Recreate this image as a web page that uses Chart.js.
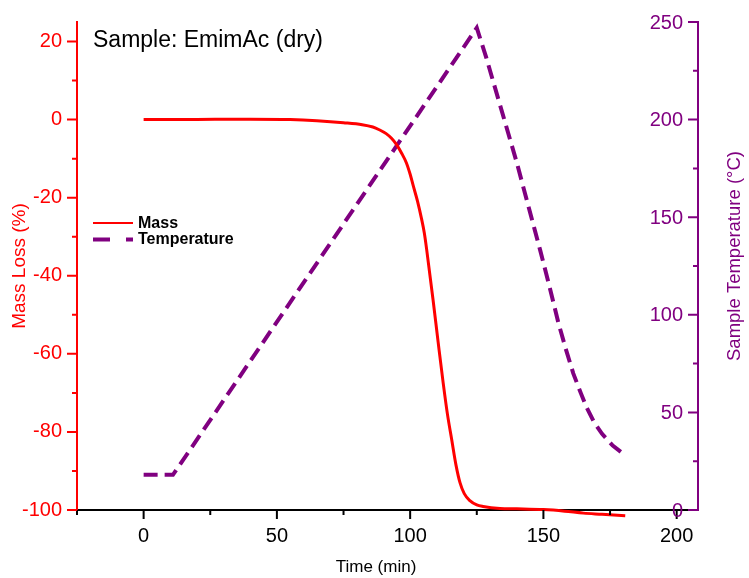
<!DOCTYPE html>
<html>
<head>
<meta charset="utf-8">
<script src="https://cdn.jsdelivr.net/npm/chart.js@4.4.1/dist/chart.umd.min.js"></script>
<style>
  html, body { margin: 0; padding: 0; background: #fff; }
  canvas { display: block; }
</style>
</head>
<body>
<canvas id="tgaChart" width="749" height="578"></canvas>
<script>
// mass loss curve (time in min, mass loss in %)
const massTime = [0, 20, 40, 55, 65, 75, 82, 86, 88.4, 91, 93, 94.9, 96.8, 98.6, 100, 101.1, 102.8, 104.3, 105.3, 106.2, 108.6, 110.5, 112.4, 114, 115.6, 117.2, 118.7, 120.3, 122.4, 125, 127.4, 133.7, 140, 150, 158, 165, 172, 180.7];
const massLoss = [0, 0.05, 0.1, 0, -0.3, -0.8, -1.3, -1.9, -2.6, -3.6, -4.8, -6.4, -8.6, -11.1, -14, -16.8, -21, -25.5, -29, -33.3, -46.2, -57, -67.5, -75.5, -82, -88.5, -93, -95.8, -97.6, -98.7, -99.1, -99.6, -99.7, -99.9, -100.3, -100.8, -101.1, -101.5];

// sample temperature (time in min, temperature in °C)
const tempTime = [0, 11, 125, 128.5, 140, 148.8, 152, 155.6, 158.5, 161.2, 164, 166.3, 169, 172, 176, 180.7];
const tempValues = [18, 18, 247, 232, 178, 133, 116, 96, 82, 70, 60, 52.3, 45, 39, 33, 28];

const xTicks = [0, 50, 100, 150, 200];
const massTicks = [-100, -80, -60, -40, -20, 0, 20];
const tempTicks = [0, 50, 100, 150, 200, 250];

const RED = '#ff0000';
const PURPLE = '#800080';
const FONT = '"Liberation Sans", Arial, sans-serif';

const toPoints = (xs, ys) => xs.map((x, i) => ({ x: x, y: ys[i] }));

// fixed plot box: label padding must not push the chart area around
const fixBox = size => s => {
    if (s.isHorizontal()) s.height = size; else s.width = size;
    s.paddingTop = 0; s.paddingBottom = 0; s.paddingLeft = 0; s.paddingRight = 0;
};

// tick marks, right tick labels, axis titles, legend and sample label
const decorations = {
    id: 'decorations',
    afterDraw(chart) {
        const ctx = chart.ctx;
        const { x, yMass, yTemp } = chart.scales;
        const area = chart.chartArea;
        ctx.save();
        ctx.lineWidth = 2;

        const tick = (color, fn) => { ctx.strokeStyle = color; ctx.beginPath(); fn(); ctx.stroke(); };

        tick('#000', () => {
            for (let v = -25; v <= 200; v += 25) {
                const px = x.getPixelForValue(v);
                const len = v % 50 === 0 ? 9 : 5;
                ctx.moveTo(px, area.bottom); ctx.lineTo(px, area.bottom + len);
            }
        });
        tick(RED, () => {
            for (let v = -100; v <= 20; v += 10) {
                const py = yMass.getPixelForValue(v);
                const len = v % 20 === 0 ? 10 : 5;
                ctx.moveTo(area.left, py); ctx.lineTo(area.left - len, py);
            }
        });
        tick(PURPLE, () => {
            for (let v = 0; v <= 250; v += 25) {
                const py = yTemp.getPixelForValue(v);
                const len = v % 50 === 0 ? 10 : 5;
                ctx.moveTo(area.right, py); ctx.lineTo(area.right - len, py);
            }
        });

        // right axis labels sit inside the plot, left of the ticks
        ctx.fillStyle = PURPLE;
        ctx.font = '20px ' + FONT;
        ctx.textAlign = 'right';
        ctx.textBaseline = 'middle';
        tempTicks.forEach(v => ctx.fillText(String(v), area.right - 15, yTemp.getPixelForValue(v) + 1));

        // axis titles
        ctx.textAlign = 'center';
        ctx.fillStyle = '#000';
        ctx.font = '17px ' + FONT;
        ctx.fillText('Time (min)', 376, 567);

        ctx.save();
        ctx.translate(20, 266);
        ctx.rotate(-Math.PI / 2);
        ctx.fillStyle = RED;
        ctx.font = '19px ' + FONT;
        ctx.fillText('Mass Loss (%)', 0, 0);
        ctx.restore();

        ctx.save();
        ctx.translate(735, 256);
        ctx.rotate(-Math.PI / 2);
        ctx.fillStyle = PURPLE;
        ctx.font = '18.5px ' + FONT;
        ctx.fillText('Sample Temperature (°C)', 0, 0);
        ctx.restore();

        // sample label
        ctx.textAlign = 'left';
        ctx.textBaseline = 'alphabetic';
        ctx.fillStyle = '#000';
        ctx.font = '23px ' + FONT;
        ctx.fillText('Sample: EmimAc (dry)', 93, 47);

        // legend
        ctx.strokeStyle = RED;
        ctx.lineWidth = 2;
        ctx.beginPath(); ctx.moveTo(93, 223); ctx.lineTo(133, 223); ctx.stroke();
        ctx.strokeStyle = PURPLE;
        ctx.lineWidth = 4;
        ctx.setLineDash([17, 16]);
        ctx.beginPath(); ctx.moveTo(93, 239.5); ctx.lineTo(133, 239.5); ctx.stroke();
        ctx.setLineDash([]);
        ctx.fillStyle = '#000';
        ctx.font = 'bold 16px ' + FONT;
        ctx.fillText('Mass', 138, 228);
        ctx.fillText('Temperature', 138, 244);
        ctx.restore();
    }
};

const ctx = document.getElementById('tgaChart').getContext('2d');
const tgaChart = new Chart(ctx, {
    type: 'line',
    data: {
        datasets: [
            {
                label: 'Mass',
                data: toPoints(massTime, massLoss),
                yAxisID: 'yMass',
                borderColor: RED,
                borderWidth: 3,
                pointRadius: 0,
                cubicInterpolationMode: 'monotone',
                fill: false,
                clip: false,
            },
            {
                label: 'Temperature',
                data: toPoints(tempTime, tempValues),
                yAxisID: 'yTemp',
                borderColor: PURPLE,
                borderWidth: 4,
                borderDash: [14, 7],
                pointRadius: 0,
                tension: 0,
                fill: false,
                clip: false,
            },
        ],
    },
    options: {
        responsive: false,
        animation: false,
        devicePixelRatio: 1,
        layout: { padding: { top: 22, left: 0, right: 0, bottom: 0 } },
        plugins: {
            legend: { display: false },
            tooltip: { enabled: false },
        },
        scales: {
            x: {
                type: 'linear',
                min: -25,
                max: 208,
                afterFit: fixBox(68),
                afterBuildTicks: s => { s.ticks = xTicks.map(v => ({ value: v })); },
                grid: { display: false, drawTicks: false },
                border: { display: true, color: '#000', width: 2 },
                ticks: { color: '#000', font: { size: 20, family: FONT }, padding: 14, maxRotation: 0 },
            },
            yMass: {
                type: 'linear',
                position: 'left',
                min: -100,
                max: 25,
                afterFit: fixBox(77),
                afterBuildTicks: s => { s.ticks = massTicks.map(v => ({ value: v })); },
                grid: { display: false, drawTicks: false },
                border: { display: true, color: RED, width: 2 },
                ticks: { color: RED, font: { size: 20, family: FONT }, padding: 15 },
            },
            yTemp: {
                type: 'linear',
                position: 'right',
                min: 0,
                max: 250,
                afterFit: fixBox(51),
                grid: { display: false, drawTicks: false },
                border: { display: true, color: PURPLE, width: 2 },
                ticks: { display: false },
            },
        },
    },
    plugins: [decorations],
});
</script>
</body>
</html>
